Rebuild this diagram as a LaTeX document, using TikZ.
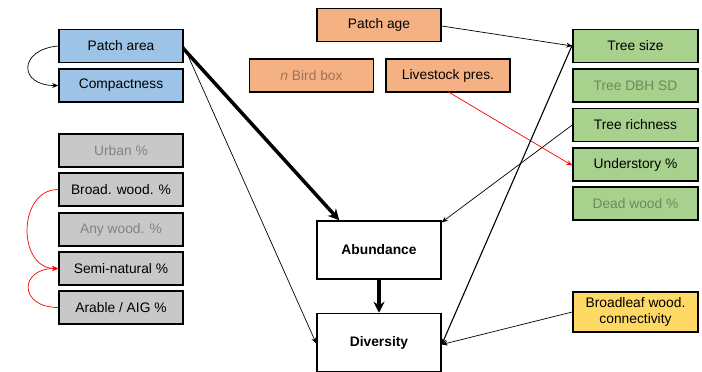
\documentclass[tikz,border=0pt]{standalone}
\usepackage{fontspec}
\setmainfont{Liberation Sans}
\usetikzlibrary{arrows.meta,calc}
\definecolor{bluef}{RGB}{157,195,230}
\definecolor{grayf}{RGB}{200,200,200}
\definecolor{orangef}{RGB}{244,177,131}
\definecolor{greenf}{RGB}{169,209,142}
\definecolor{yellowf}{RGB}{255,217,102}
\definecolor{redl}{RGB}{255,0,0}
\tikzset{
  box/.style={draw=black, line width=1.5pt, minimum width=124pt, minimum height=33pt, inner sep=0pt, align=center, font=\fontsize{13.8}{16}\selectfont},
  bigbox/.style={draw=black, fill=white, line width=1.5pt, minimum width=124pt, minimum height=58pt, inner sep=0pt, font=\fontsize{13.8}{16}\selectfont\bfseries},
  faded/.style={text opacity=0.35},
  thin/.style={draw=black, line width=0.7pt, -{Stealth[length=6pt,width=5pt]}},
  redthin/.style={draw=redl, line width=0.7pt, -{Stealth[length=6pt,width=5pt]}},
  thick/.style={draw=black, line width=3.5pt, -{Stealth[length=11pt,width=11pt]}},
}
\begin{document}
\begin{tikzpicture}[x=1pt,y=-1pt]
\useasboundingbox (0,0) rectangle (702,372);
% left column
\node[box, fill=bluef] (pa) at (121,46) {Patch area};
\node[box, fill=bluef] (comp) at (121,85.5) {Compactness};
\node[box, fill=grayf, faded] (urban) at (121,150.5) {Urban \%};
\node[box, fill=grayf] (broad) at (121,189.5) {Broad. wood. \%};
\node[box, fill=grayf, faded] (any) at (121,229.5) {Any wood. \%};
\node[box, fill=grayf] (semi) at (121,268.5) {Semi-natural \%};
\node[box, fill=grayf] (arable) at (121,307.5) {Arable / AIG \%};
% top middle
\node[box, fill=orangef] (age) at (379,25) {Patch age};
\node[box, fill=orangef, faded] (bird) at (311.5,75.5) {\textit{n} Bird box};
\node[box, fill=orangef] (live) at (448,75.5) {Livestock pres.};
% right column
\node[box, fill=greenf, minimum width=125pt] (tsize) at (635.5,46) {Tree size};
\node[box, fill=greenf, minimum width=125pt, faded] (dbh) at (635.5,85.5) {Tree DBH SD};
\node[box, fill=greenf, minimum width=125pt] (rich) at (635.5,125) {Tree richness};
\node[box, fill=greenf, minimum width=125pt] (under) at (635.5,164.5) {Understory \%};
\node[box, fill=greenf, minimum width=125pt, faded] (dead) at (635.5,203.5) {Dead wood \%};
\node[box, fill=yellowf, minimum width=125pt, minimum height=40pt, font=\fontsize{13.8}{16}\selectfont] (bl) at (635.5,312) {Broadleaf wood.\\connectivity};
% responses
\node[bigbox] (ab) at (379,250) {Abundance};
\node[bigbox] (div) at (379,342.5) {Diversity};
% connectors
\draw[thin] (pa.west) to[out=185,in=180,looseness=2.6] (comp.west);
\draw[redthin] (broad.west) to[out=180,in=180,looseness=1.33] (semi.west);
\draw[redthin] (arable.west) to[out=180,in=180,looseness=2.6] (semi.west);
\draw[thick] ([yshift=-3pt]pa.east) -- ([xshift=23pt]ab.north west);
\draw[thin] (pa.east) -- ([yshift=-1pt]div.west);
\draw[thick] (ab.south) -- (div.north);
\draw[thin] ([yshift=-1pt]age.east) -- (tsize.west);
\draw[redthin] ([yshift=1pt]live.south) -- ([yshift=-1pt]under.west);
\draw[thin] (rich.west) -- ([yshift=-2pt]ab.north east);
\draw[thin, line width=1.1pt] ([yshift=1pt]tsize.west) -- ([yshift=-2pt]div.east);
\draw[thin] (bl.west) -- ([yshift=-2pt]div.east);
\end{tikzpicture}
\end{document}
